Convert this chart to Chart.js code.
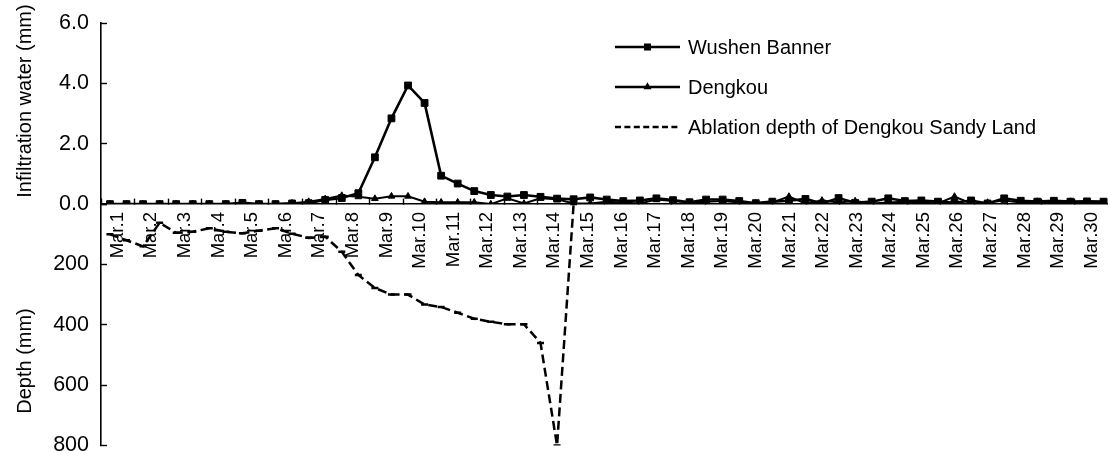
<!DOCTYPE html>
<html>
<head>
<meta charset="utf-8">
<script src="https://cdn.jsdelivr.net/npm/chart.js@4.4.0/dist/chart.umd.min.js"></script>
<style>
  html, body { margin: 0; padding: 0; background: #fff; overflow: hidden; }
  #wrap { position: relative; width: 1115px; height: 452px; }
  canvas { display: block; }
</style>
</head>
<body>
<div id="wrap"><canvas id="chart" width="1115" height="452"></canvas></div>
<script>
// Day labels on the time axis
const dayLabels = ['Mar.1','Mar.2','Mar.3','Mar.4','Mar.5','Mar.6','Mar.7','Mar.8','Mar.9','Mar.10',
  'Mar.11','Mar.12','Mar.13','Mar.14','Mar.15','Mar.16','Mar.17','Mar.18','Mar.19','Mar.20',
  'Mar.21','Mar.22','Mar.23','Mar.24','Mar.25','Mar.26','Mar.27','Mar.28','Mar.29','Mar.30'];

// Reading numbers (two readings per day)
const readingNumbers = [1,2,3,4,5,6,7,8,9,10,11,12,13,14,15,16,17,18,19,20,
  21,22,23,24,25,26,27,28,29,30,31,32,33,34,35,36,37,38,39,40,
  41,42,43,44,45,46,47,48,49,50,51,52,53,54,55,56,57,58,59,60,61];

// Infiltration water, Wushen Banner (mm)
const wushenBanner = [0,0,0,0,0,0,0,0,0.04,0,
  0,0.02,0.03,0.14,0.2,0.36,1.55,2.84,3.93,3.35,
  0.94,0.68,0.43,0.3,0.25,0.3,0.24,0.18,0.16,0.22,
  0.15,0.1,0.12,0.19,0.13,0.06,0.15,0.15,0.1,0.03,
  0.08,0.11,0.17,0.02,0.2,0.04,0.08,0.19,0.1,0.12,
  0.08,0.04,0.12,0.02,0.19,0.11,0.08,0.11,0.08,0.09,0.08];

// Infiltration water, Dengkou (mm)
const dengkou = [0,0,0,0,0,0,0,0,0,0,
  0,0.03,0.08,0.17,0.28,0.24,0.18,0.26,0.26,0.08,
  0.06,0.06,0.06,0,0.19,0.02,0.19,0.16,0.02,0.02,
  0.08,0.05,0.02,0.15,0.1,0.05,0.08,0.1,0.05,0.02,
  0.05,0.25,0.02,0.12,0.05,0.1,0.02,0.05,0.08,0.05,
  0.02,0.25,0.02,0.05,0.12,0.05,0.08,0.05,0.08,0.05,0.05];

// Ablation depth of Dengkou Sandy Land (mm)
const ablationDepth = [100,120,140,62,95,92,80,92,97,88,
  80,98,112,108,158,235,278,300,300,333,
  341,360,380,390,398,398,460,800,0];

const infiltrationTicks = [0, 2, 4, 6];
const depthTicks = [0, 200, 400, 600, 800];

const FONT = '"Liberation Sans", Arial, Helvetica, sans-serif';

// Rotated captions for the two stacked value axes
const axisCaptions = {
  id: 'axisCaptions',
  afterDraw(chart, args, opts) {
    const ctx = chart.ctx;
    ctx.save();
    ctx.fillStyle = '#000';
    ctx.font = opts.size + 'px ' + FONT;
    ctx.textAlign = 'center';
    ctx.textBaseline = 'alphabetic';
    for (const item of opts.items) {
      ctx.save();
      ctx.translate(opts.baseline, item.center);
      ctx.rotate(-Math.PI / 2);
      ctx.fillText(item.text, 0, 0);
      ctx.restore();
    }
    ctx.restore();
  }
};

// Series key drawn inside the plot area
const seriesKey = {
  id: 'seriesKey',
  afterDraw(chart, args, opts) {
    const ctx = chart.ctx;
    chart.data.datasets.forEach((ds, i) => {
      const style = opts.styles[i];
      const y = opts.top + i * opts.rowGap;
      const x0 = opts.left, x1 = opts.left + opts.sampleWidth;
      ctx.save();
      ctx.strokeStyle = '#000';
      ctx.fillStyle = '#000';
      ctx.lineWidth = opts.lineWidth;
      ctx.setLineDash(style.dash || []);
      ctx.beginPath();
      ctx.moveTo(x0, y);
      ctx.lineTo(x1, y);
      ctx.stroke();
      ctx.setLineDash([]);
      if (style.radius) {
        Chart.helpers.drawPoint(ctx, { pointStyle: ds.pointStyle, radius: style.radius, borderWidth: 1 }, (x0 + x1) / 2, y);
      }
      ctx.font = opts.size + 'px ' + FONT;
      ctx.textAlign = 'left';
      ctx.textBaseline = 'middle';
      ctx.fillText(ds.label, x1 + opts.gap, y + 1);
      ctx.restore();
    });
  }
};

function fixWidth(scale) {
  scale.width = 101;
  scale.paddingTop = 0;
  scale.paddingBottom = 0;
}

new Chart(document.getElementById('chart'), {
  type: 'line',
  data: {
    labels: readingNumbers,
    datasets: [
      {
        label: 'Wushen Banner',
        data: wushenBanner,
        xAxisID: 'reading',
        yAxisID: 'y',
        borderColor: '#000',
        backgroundColor: '#000',
        borderWidth: 2.6,
        pointStyle: 'rect',
        pointRadius: 4.8,
        pointBorderWidth: 1,
        tension: 0
      },
      {
        label: 'Dengkou',
        data: dengkou,
        xAxisID: 'reading',
        yAxisID: 'y',
        borderColor: '#000',
        backgroundColor: '#000',
        borderWidth: 2,
        pointStyle: 'triangle',
        pointRadius: 3.8,
        pointBorderWidth: 1,
        tension: 0
      },
      {
        label: 'Ablation depth of Dengkou Sandy Land',
        data: ablationDepth,
        xAxisID: 'reading',
        yAxisID: 'depth',
        borderColor: '#000',
        backgroundColor: '#000',
        borderWidth: 2.5,
        borderDash: [9, 4.5],
        pointStyle: 'line',
        pointRadius: 3.5,
        pointBorderWidth: 2.5,
        tension: 0
      }
    ]
  },
  options: {
    responsive: false,
    animation: false,
    events: [],
    layout: { padding: { left: 0, right: 0, top: 23, bottom: 6 } },
    plugins: {
      legend: { display: false },
      tooltip: { enabled: false },
      axisCaptions: {
        size: 20,
        baseline: 31,
        items: [
          { text: 'Infiltration water (mm)', center: 101 },
          { text: 'Depth (mm)', center: 361 }
        ]
      },
      seriesKey: {
        left: 615, top: 47, rowGap: 40, sampleWidth: 65, gap: 8, lineWidth: 2.5, size: 20,
        styles: [ { radius: 3.2 }, { radius: 2.2 }, { dash: [6, 3.4] } ]
      }
    },
    scales: {
      reading: {
        type: 'linear',
        display: false,
        position: 'bottom',
        min: 0.46,
        max: 61.3
      },
      x: {
        type: 'linear',
        position: { y: 0 },
        min: 0.5,
        max: 30.5,
        afterBuildTicks: (scale) => { scale.ticks = dayLabels.map((_, i) => ({ value: i + 1 })); },
        afterFit: (scale) => { scale.paddingLeft = 0; scale.paddingRight = 0; },
        ticks: {
          autoSkip: false,
          minRotation: 90,
          maxRotation: 90,
          padding: 14,
          color: '#000',
          font: { family: FONT, size: 18.5 },
          callback: (v) => dayLabels[v - 1]
        },
        grid: { offset: true, drawOnChartArea: false, tickLength: -6, tickWidth: 1.4, tickColor: '#000' },
        border: { color: '#000', width: 1.6 }
      },
      y: {
        type: 'linear',
        position: 'left',
        stack: 'values',
        stackWeight: 6,
        weight: 1,
        min: 0,
        max: 6,
        afterBuildTicks: (scale) => { scale.ticks = infiltrationTicks.map(v => ({ value: v })); },
        afterFit: fixWidth,
        ticks: {
          padding: 18,
          color: '#000',
          font: { family: FONT, size: 21.5 },
          callback: (v) => v.toFixed(1)
        },
        grid: { drawOnChartArea: false, tickLength: -6, tickWidth: 1.4, tickColor: '#000' },
        border: { color: '#000', width: 1.6 }
      },
      depth: {
        type: 'linear',
        position: 'left',
        stack: 'values',
        stackWeight: 8,
        weight: 0,
        min: 0,
        max: 800,
        reverse: true,
        afterBuildTicks: (scale) => { scale.ticks = depthTicks.map(v => ({ value: v })); },
        afterFit: fixWidth,
        ticks: {
          padding: 18,
          color: '#000',
          font: { family: FONT, size: 21.5 },
          callback: (v) => (v === 0 ? '' : String(v))
        },
        grid: { drawOnChartArea: false, tickLength: -6, tickWidth: 1.4, tickColor: '#000' },
        border: { color: '#000', width: 1.6 }
      }
    }
  },
  plugins: [axisCaptions, seriesKey]
});
</script>
</body>
</html>
